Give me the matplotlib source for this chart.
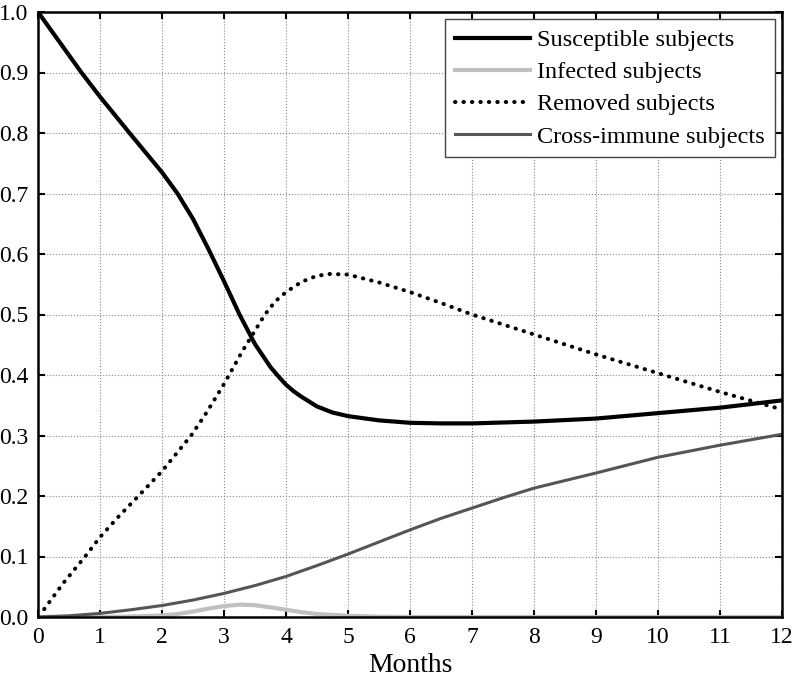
import matplotlib
matplotlib.use("Agg")
import matplotlib.pyplot as plt

plt.rcParams['font.family'] = ['Liberation Serif', 'DejaVu Serif']

t_S = [0, 0.35, 0.7, 1, 1.5, 2, 2.25, 2.5, 2.75, 3, 3.25, 3.5, 3.75, 3.875, 4, 4.125, 4.25, 4.5, 4.75, 5, 5.5, 6, 6.5, 7, 8, 9, 10, 11, 12]
S = [1.0, 0.95, 0.9, 0.86, 0.797, 0.735, 0.700, 0.658, 0.608, 0.555, 0.500, 0.451, 0.413, 0.398, 0.384, 0.373, 0.364, 0.348, 0.338, 0.332, 0.325, 0.321, 0.320, 0.320, 0.323, 0.328, 0.337, 0.346, 0.358]

t_I = [0, 1, 1.5, 2, 2.25, 2.5, 2.75, 3, 3.25, 3.5, 3.75, 4, 4.25, 4.5, 5, 5.5, 6, 12]
I = [0, 0, 0.0008, 0.0025, 0.005, 0.009, 0.014, 0.018, 0.0205, 0.0195, 0.016, 0.012, 0.008, 0.005, 0.002, 0.0005, 0, 0]

t_R = [0.1, 0.4, 0.76, 1, 1.3, 1.62, 2, 2.47, 2.7, 3, 3.3, 3.66, 3.83, 4, 4.25, 4.5, 4.71, 5, 5.5, 6, 6.5, 7, 8, 9, 10, 11, 12]
R = [0.013, 0.055, 0.1, 0.132, 0.166, 0.2, 0.241, 0.3, 0.335, 0.385, 0.44, 0.5, 0.522, 0.537, 0.554, 0.564, 0.567, 0.566, 0.553, 0.537, 0.519, 0.50, 0.467, 0.434, 0.403, 0.372, 0.343]

t_C = [0, 0.5, 1, 1.5, 2, 2.5, 3, 3.5, 4, 4.5, 5, 5.5, 6, 6.5, 7, 7.5, 8, 9, 10, 11, 12]
C = [0, 0.002, 0.006, 0.012, 0.019, 0.028, 0.039, 0.052, 0.067, 0.085, 0.104, 0.124, 0.144, 0.163, 0.18, 0.197, 0.213, 0.238, 0.264, 0.284, 0.302]

labels = ["Susceptible subjects", "Infected subjects", "Removed subjects", "Cross-immune subjects"]
x_ticks = list(range(0, 13))
y_ticks = [0.0, 0.1, 0.2, 0.3, 0.4, 0.5, 0.6, 0.7, 0.8, 0.9, 1.0]

fig = plt.figure(figsize=(7.95, 6.78), dpi=100)
ax = fig.add_axes([38/795, 61/678, 744/795, 605/678])

ax.plot(t_S, S, color='black', lw=3, label=labels[0], solid_joinstyle='round')
ax.plot(t_I, I, color='#c0c0c0', lw=3, label=labels[1], solid_joinstyle='round')
ax.plot(t_R, R, color='black', lw=2.9, linestyle=(0, (0.1, 2.0)), dash_capstyle='round', label=labels[2])
ax.plot(t_C, C, color='#555555', lw=2.2, label=labels[3], solid_joinstyle='round')

ax.set_xlim(0, 12)
ax.set_ylim(0, 1)
ax.set_xticks(x_ticks)
ax.set_yticks(y_ticks)
ax.set_yticklabels([f"{v:.1f}" for v in y_ticks])
ax.tick_params(direction='in', top=True, right=True, labelsize=17, length=5, width=1.5, pad=7)
ax.grid(True, color='#888888', linestyle=':', lw=0.8)
for s in ax.spines.values():
    s.set_linewidth(1.8)
ax.set_xlabel("Months", fontsize=20, labelpad=4)

leg = ax.legend(loc='upper right', fontsize=17.5, fancybox=False, framealpha=1,
                edgecolor='#444444', handlelength=3.1, borderpad=0.4, labelspacing=0.42,
                handletextpad=0.3, borderaxespad=0.3)
leg.get_frame().set_linewidth(1)

fig.savefig("out.png", dpi=100)
